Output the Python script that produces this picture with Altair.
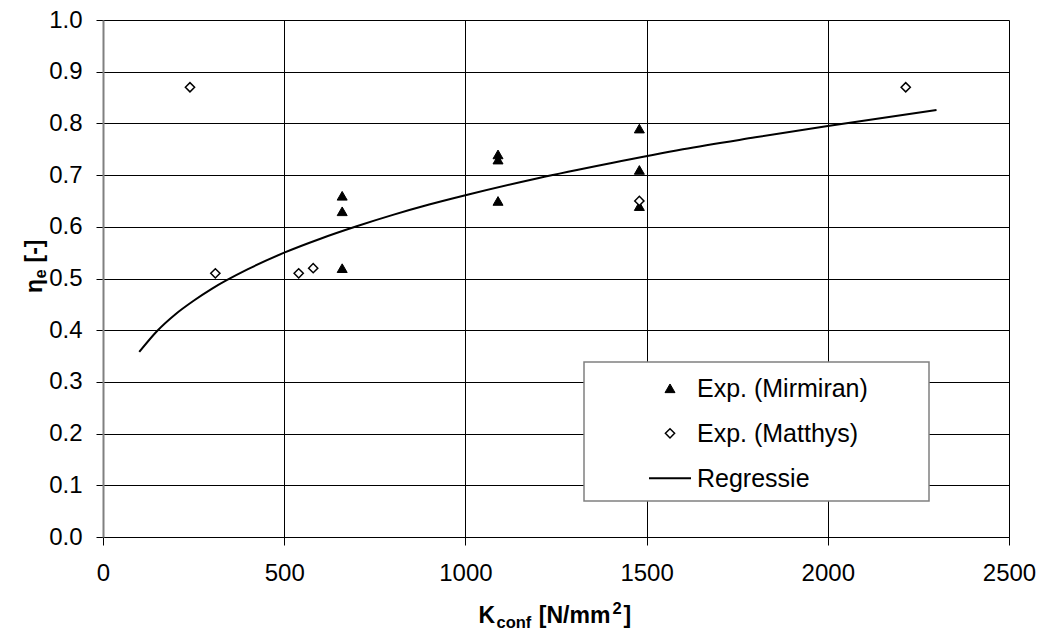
import altair as alt
import pandas as pd

# ---- data ----
mir_x = [660, 660, 660, 1090, 1090, 1090, 1480, 1480, 1480]
mir_y = [0.66, 0.63, 0.52, 0.74, 0.73, 0.65, 0.79, 0.71, 0.64]
mat_x = [240, 310, 540, 580, 1480, 2215]
mat_y = [0.87, 0.51, 0.51, 0.52, 0.65, 0.87]
reg_x = [100, 150, 200, 250, 300, 400, 500, 600, 700, 800, 900, 1000,
         1200, 1400, 1600, 1800, 2000, 2300]
reg_y = [0.358, 0.399, 0.431, 0.457, 0.480, 0.518, 0.550, 0.577, 0.601,
         0.623, 0.643, 0.661, 0.694, 0.723, 0.750, 0.773, 0.795, 0.826]
series_names = ["Exp. (Mirmiran)", "Exp. (Matthys)", "Regressie"]
x_ticks = [0, 500, 1000, 1500, 2000, 2500]
y_ticks = [round(i * 0.1, 1) for i in range(11)]

FONT = "Liberation Sans"
W, H = 906, 517

mir = pd.DataFrame({"k": mir_x, "eta": mir_y})
mat = pd.DataFrame({"k": mat_x, "eta": mat_y})
reg = pd.DataFrame({"k": reg_x, "eta": reg_y})

xscale = alt.Scale(domain=[0, 2500], nice=False, zero=False)
yscale = alt.Scale(domain=[0, 1], nice=False)

xaxis = alt.Axis(values=x_ticks, format="d", title=None, grid=True,
                 gridColor="black", gridWidth=1, gridOpacity=1,
                 domainColor="black", domainWidth=1,
                 tickColor="black", tickSize=8, tickWidth=1,
                 labelFont=FONT, labelFontSize=24, labelColor="black",
                 labelPadding=16, labelFlush=False)
yaxis = alt.Axis(values=y_ticks, format=".1f", title=None, grid=True,
                 gridColor="black", gridWidth=1, gridOpacity=1,
                 domainColor="#808080", domainWidth=2,
                 tickColor="black", tickSize=7, tickWidth=1,
                 labelFont=FONT, labelFontSize=24, labelColor="black",
                 labelPadding=14, labelFlush=False)

TRI = dict(shape="triangle-up", filled=True, fill="black", stroke="black",
           strokeWidth=1, size=100, opacity=1)
DIA = dict(shape="diamond", filled=False, fill="white", stroke="black",
           strokeWidth=1.5, size=85, opacity=1)

line = alt.Chart(reg).mark_line(color="black", strokeWidth=2,
                                interpolate="monotone").encode(
    x=alt.X("k:Q", scale=xscale, axis=xaxis),
    y=alt.Y("eta:Q", scale=yscale, axis=yaxis),
)
mir_pts = alt.Chart(mir).mark_point(**TRI).encode(
    x=alt.X("k:Q", scale=xscale), y=alt.Y("eta:Q", scale=yscale))
mat_pts = alt.Chart(mat).mark_point(**DIA).encode(
    x=alt.X("k:Q", scale=xscale), y=alt.Y("eta:Q", scale=yscale))

one = pd.DataFrame({"a": [0]})

# ---- legend (drawn as a boxed key) ----
box = alt.Chart(one).mark_rect(
    fill="white", stroke="#808080", strokeWidth=1.5).encode(
    x=alt.value(481), x2=alt.value(826), y=alt.value(342), y2=alt.value(481))
sym_x, row_y = 567, [368.3, 413.3, 458.3]
leg_tri = alt.Chart(one).mark_point(**TRI).encode(
    x=alt.value(sym_x), y=alt.value(row_y[0]))
leg_dia = alt.Chart(one).mark_point(**DIA).encode(
    x=alt.value(sym_x), y=alt.value(row_y[1]))
leg_line = alt.Chart(one).mark_rule(color="black", strokeWidth=2).encode(
    x=alt.value(sym_x - 21), x2=alt.value(sym_x + 21), y=alt.value(row_y[2]))


def txt(s, x, y, size=23, angle=0, weight="bold"):
    return alt.Chart(pd.DataFrame({"t": [s]})).mark_text(
        font=FONT, fontWeight=weight, fontSize=size, color="black",
        align="left", baseline="alphabetic", angle=angle).encode(
        text="t:N", x=alt.value(x), y=alt.value(y))


leg_txt = [txt(name, 594, ry + 8.5, 25, 0, "normal")
           for name, ry in zip(series_names, row_y)]

# x title: K_conf [N/mm^2]
yb = 603
xt = [
    txt("K", 375.6, yb),
    txt("conf", 393.5, yb + 5, 16.5),
    txt("[N/mm", 435.8, yb),
    txt("2", 509.5, yb - 9, 16.5),
    txt("]", 520.6, yb),
]
# y title: eta_e [-]
xb, y0 = -61, 273
yt = [
    txt("η", xb, y0, 23, 270),
    txt("e", xb + 4, y0 - 14.5, 16.5, 270),
    txt("[-]", xb, y0 - 30.5, 23, 270),
]

chart = alt.layer(box, line, mir_pts, mat_pts, leg_tri, leg_dia, leg_line,
                  *leg_txt, *xt, *yt).properties(
    width=W, height=H,
    padding={"left": 103, "top": 20, "right": 30, "bottom": 93},
    autosize=alt.AutoSizeParams(type="none"),
    background="white",
).configure_view(strokeWidth=0)

chart.save("out.html", embed_options={"renderer": "svg", "actions": False})
